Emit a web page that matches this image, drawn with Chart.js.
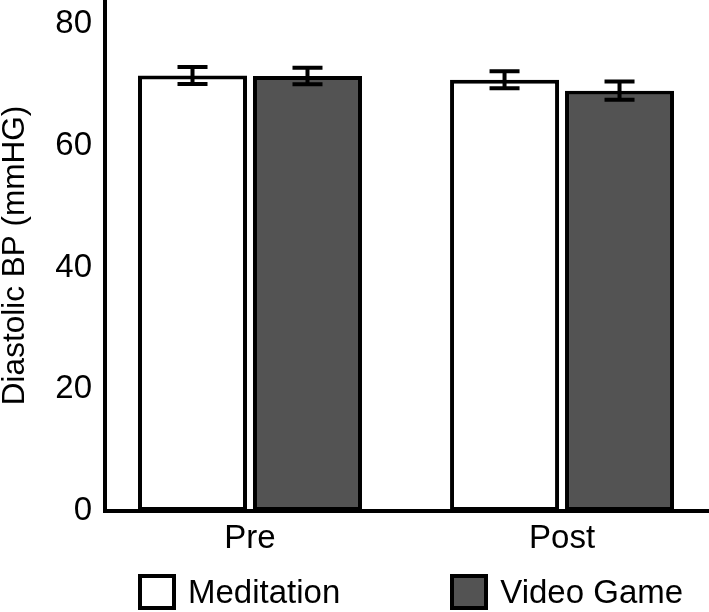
<!DOCTYPE html>
<html>
<head>
<meta charset="utf-8">
<script src="https://cdn.jsdelivr.net/npm/chart.js@4.4.1/dist/chart.umd.min.js"></script>
<style>
  body { margin: 0; background: #fff; }
  #wrap { position: relative; width: 709px; height: 612px; overflow: hidden; }
  #legend {
    position: absolute; top: 574px; left: 0; padding-left: 138px;
    display: flex; gap: 110px;
    font-family: "Liberation Sans", Arial, Helvetica, sans-serif; font-size: 33px;
  }
  .item { display: flex; align-items: center; height: 36px; }
  .box { width: 38px; height: 36px; border: 4px solid #000; box-sizing: border-box; }
  .label { margin-left: 12px; line-height: 36px; }
</style>
</head>
<body>
<div id="wrap">
  <canvas id="bpChart" width="709" height="612"></canvas>
  <div id="legend"></div>
</div>
<script>
// Data
const categories = ["Pre", "Post"];
const seriesNames = ["Meditation", "Video Game"];
const meditationMeans = [71.6, 70.9];
const meditationErrors = [1.4, 1.4];
const videoGameMeans = [71.5, 69.1];
const videoGameErrors = [1.35, 1.5];
const yTicks = [0, 20, 40, 60, 80];
const seriesColors = ["#ffffff", "#535353"];

const FONT = '"Liberation Sans", Arial, Helvetica, sans-serif';

// Error bars drawn on top of each bar using the chart's own y scale
const errorBarPlugin = {
  id: "errorBars",
  afterDatasetsDraw(chart) {
    const ctx = chart.ctx;
    const yScale = chart.scales.y;
    chart.data.datasets.forEach((ds, di) => {
      const meta = chart.getDatasetMeta(di);
      meta.data.forEach((bar, i) => {
        const mean = ds.data[i].y;
        const err = ds.errors[i];
        const top = yScale.getPixelForValue(mean + err);
        const bottom = yScale.getPixelForValue(mean - err);
        ctx.save();
        ctx.strokeStyle = "#000";
        ctx.lineWidth = 4;
        ctx.beginPath();
        ctx.moveTo(bar.x, top);
        ctx.lineTo(bar.x, bottom);
        ctx.moveTo(bar.x - 15, top);
        ctx.lineTo(bar.x + 15, top);
        ctx.moveTo(bar.x - 15, bottom);
        ctx.lineTo(bar.x + 15, bottom);
        ctx.stroke();
        ctx.restore();
      });
    });
  }
};

function makeDataset(name, means, errors, color) {
  return {
    label: name,
    data: means.map((v, i) => ({ x: i, y: v })),
    errors: errors,
    backgroundColor: color,
    borderColor: "#000",
    borderWidth: 4,
    borderSkipped: false,
    categoryPercentage: 0.737,
    barPercentage: 0.948
  };
}

const ctx = document.getElementById("bpChart").getContext("2d");
const bpChart = new Chart(ctx, {
  type: "bar",
  data: {
    datasets: [
      makeDataset(seriesNames[0], meditationMeans, meditationErrors, seriesColors[0]),
      makeDataset(seriesNames[1], videoGameMeans, videoGameErrors, seriesColors[1])
    ]
  },
  options: {
    responsive: false,
    animation: false,
    layout: { padding: 0 },
    plugins: {
      legend: { display: false },
      tooltip: { enabled: false }
    },
    scales: {
      x: {
        type: "linear",
        min: -0.4647,
        max: 1.471,
        offset: false,
        grid: { display: false, drawTicks: false },
        border: { display: true, color: "#000", width: 4 },
        afterBuildTicks: (scale) => {
          scale.ticks = categories.map((c, i) => ({ value: i }));
        },
        afterFit: (scale) => {
          scale.height = 101;
          scale.paddingLeft = 0;
          scale.paddingRight = 0;
        },
        ticks: {
          color: "#000",
          padding: 8,
          font: { family: FONT, size: 33 },
          callback: (value) => categories[value]
        }
      },
      y: {
        min: 0,
        max: 84,
        grid: { display: false, drawTicks: false },
        border: { display: true, color: "#000", width: 4 },
        afterBuildTicks: (scale) => {
          scale.ticks = yTicks.map((v) => ({ value: v }));
        },
        afterFit: (scale) => {
          scale.width = 105;
          scale.paddingTop = 0;
          scale.paddingBottom = 0;
        },
        ticks: {
          color: "#000",
          padding: 13,
          font: { family: FONT, size: 33 }
        },
        title: {
          display: true,
          text: "Diastolic BP (mmHG)",
          color: "#000",
          padding: 0,
          font: { family: FONT, size: 31.5, lineHeight: 1 }
        }
      }
    }
  },
  plugins: [errorBarPlugin]
});

// HTML legend built from the datasets
const legend = document.getElementById("legend");
bpChart.data.datasets.forEach((ds) => {
  const item = document.createElement("div");
  item.className = "item";
  const box = document.createElement("span");
  box.className = "box";
  box.style.background = ds.backgroundColor;
  const label = document.createElement("span");
  label.className = "label";
  label.textContent = ds.label;
  item.appendChild(box);
  item.appendChild(label);
  legend.appendChild(item);
});
</script>
</body>
</html>
